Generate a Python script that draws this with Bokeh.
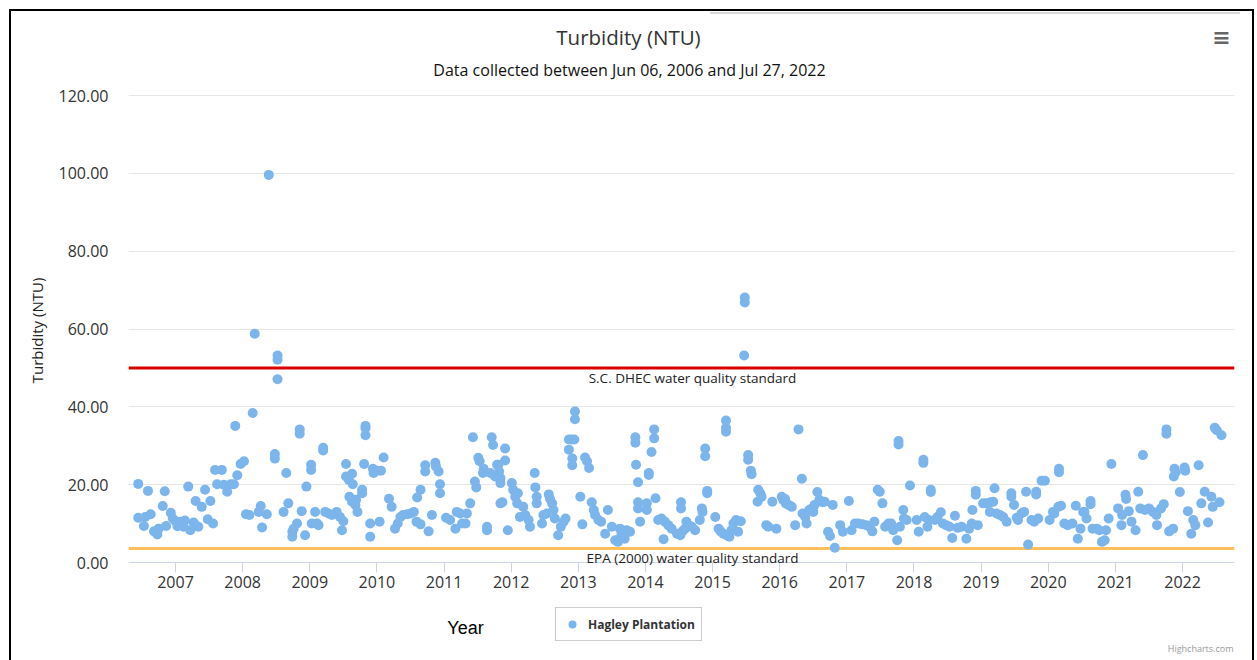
from bokeh.plotting import figure
from bokeh.models import (Range1d, FixedTicker, NumeralTickFormatter, Span, Label,
                          Legend, LegendItem, ColumnDataSource)
from bokeh.embed import file_html
from bokeh.resources import INLINE

# ---------------- data ----------------
sample_year = [
    2006.445, 2006.445, 2006.53, 2006.55, 2006.59, 2006.63, 2006.68, 2006.73, 2006.75, 2006.81,
    2006.84, 2006.86, 2006.93, 2006.96, 2007.00, 2007.03, 2007.07, 2007.14, 2007.12, 2007.19,
    2007.22, 2007.27, 2007.30, 2007.34, 2007.39, 2007.44, 2007.48, 2007.52, 2007.56, 2007.59,
    2007.62, 2007.69, 2007.72, 2007.77, 2007.82, 2007.87, 2007.92, 2007.89, 2007.97, 2008.02,
    2008.05, 2008.10, 2008.15, 2008.18, 2008.24, 2008.27, 2008.29, 2008.36, 2008.39, 2008.48,
    2008.48, 2008.52, 2008.52, 2008.52, 2008.65, 2008.68, 2008.61, 2008.74, 2008.74, 2008.76,
    2008.81, 2008.85, 2008.85, 2008.88, 2008.93, 2008.95, 2009.02, 2009.02, 2009.03,
    2009.08, 2009.11, 2009.13, 2009.20, 2009.20, 2009.23, 2009.28, 2009.33, 2009.40, 2009.45,
    2009.48, 2009.50, 2009.54, 2009.54, 2009.58, 2009.63, 2009.64, 2009.59, 2009.63, 2009.69,
    2009.68, 2009.71, 2009.78, 2009.78, 2009.83, 2009.83, 2009.83, 2009.81, 2009.90, 2009.90,
    2009.94, 2009.95, 2010.00, 2010.04, 2010.06, 2010.10, 2010.18, 2010.22, 2010.27, 2010.31,
    2010.35, 2010.39, 2010.45, 2010.50, 2010.55, 2010.60, 2010.65, 2010.59, 2010.65, 2010.72,
    2010.72, 2010.87, 2010.88, 2010.92, 2010.77, 2010.82, 2010.94, 2010.94, 2011.03, 2011.09,
    2011.17, 2011.19, 2011.24, 2011.27, 2011.32, 2011.34, 2011.39, 2011.43, 2011.46, 2011.48,
    2011.51, 2011.53, 2011.59, 2011.58, 2011.64, 2011.64, 2011.71, 2011.73, 2011.69, 2011.76,
    2011.79, 2011.84,
    2011.81, 2011.82, 2011.84, 2011.84, 2011.91, 2011.91, 2011.87, 2011.95, 2012.01, 2012.03,
    2012.06, 2012.10, 2012.09, 2012.13, 2012.18, 2012.21, 2012.26, 2012.28, 2012.35, 2012.36,
    2012.38, 2012.38, 2012.46, 2012.48, 2012.53, 2012.56, 2012.58, 2012.61, 2012.63, 2012.65,
    2012.70, 2012.74, 2012.78, 2012.81, 2012.86, 2012.90, 2012.94, 2012.86, 2012.91, 2012.91,
    2012.95, 2012.95, 2013.03, 2013.06, 2013.10, 2013.13, 2013.16, 2013.20, 2013.23, 2013.25,
    2013.30, 2013.34, 2013.44, 2013.40, 2013.50, 2013.55, 2013.59, 2013.64, 2013.69, 2013.72,
    2013.77, 2013.62, 2013.85, 2013.85, 2013.86, 2013.89, 2013.89, 2013.89, 2013.92, 2014.02,
    2014.02, 2014.05, 2014.05, 2014.09, 2014.13, 2014.13, 2014.15, 2014.19, 2014.24, 2014.29,
    2014.34, 2014.39, 2014.47, 2014.52, 2014.27, 2014.53, 2014.53,
    2014.55, 2014.59, 2014.64, 2014.69, 2014.74, 2014.61, 2014.81, 2014.84, 2014.85, 2014.89,
    2014.89, 2014.92, 2014.92, 2015.04, 2015.09, 2015.12, 2015.16, 2015.21, 2015.25, 2015.28,
    2015.31, 2015.35, 2015.38, 2015.42, 2015.20, 2015.20, 2015.20, 2015.47, 2015.48, 2015.48,
    2015.53, 2015.53, 2015.57, 2015.58, 2015.67, 2015.68, 2015.71, 2015.73, 2015.80, 2015.83,
    2015.89, 2015.95, 2016.03, 2016.05, 2016.09, 2016.13, 2016.18, 2016.08, 2016.23, 2016.28,
    2016.33, 2016.34, 2016.38, 2016.40, 2016.44, 2016.48, 2016.50, 2016.52, 2016.56, 2016.59,
    2016.64, 2016.67, 2016.72, 2016.75, 2016.79, 2016.82, 2016.90, 2016.94, 2017.03, 2017.07,
    2017.12, 2017.17, 2017.23, 2017.29,
    2017.34, 2017.38, 2017.41, 2017.46, 2017.49, 2017.53, 2017.57, 2017.62, 2017.66, 2017.69,
    2017.75, 2017.77, 2017.77, 2017.79, 2017.84, 2017.85, 2017.89, 2017.94, 2018.04, 2018.07,
    2018.14, 2018.14, 2018.16, 2018.20, 2018.22, 2018.25, 2018.25, 2018.31, 2018.35, 2018.40,
    2018.43, 2018.48, 2018.53, 2018.57, 2018.61, 2018.65, 2018.71, 2018.78, 2018.82, 2018.86,
    2018.87, 2018.92, 2018.92, 2018.95, 2019.03, 2019.08, 2019.14, 2019.18, 2019.13, 2019.20,
    2019.23, 2019.28, 2019.33, 2019.38, 2019.45, 2019.45, 2019.49, 2019.53, 2019.55, 2019.60,
    2019.64, 2019.67, 2019.70, 2019.75, 2019.79, 2019.82, 2019.82, 2019.85, 2019.90, 2019.95,
    2020.02, 2020.07,
    2020.09, 2020.15, 2020.19, 2020.16, 2020.16, 2020.24, 2020.29, 2020.36, 2020.41, 2020.44,
    2020.48, 2020.52, 2020.54, 2020.57, 2020.63, 2020.63, 2020.66, 2020.72, 2020.76, 2020.80,
    2020.84, 2020.86, 2020.90, 2020.94, 2021.04, 2021.09, 2021.10, 2021.15, 2021.16, 2021.20,
    2021.24, 2021.30, 2021.34, 2021.41, 2021.37, 2021.44, 2021.50, 2021.56, 2021.62, 2021.61,
    2021.68, 2021.72, 2021.76, 2021.76, 2021.80, 2021.86, 2021.87, 2021.88, 2021.90, 2021.96,
    2022.03, 2022.04, 2022.08, 2022.13, 2022.16, 2022.19, 2022.24, 2022.28, 2022.33, 2022.38,
    2022.43, 2022.45, 2022.55, 2022.48, 2022.51, 2022.58,
]

turbidity_ntu = [
    20.2, 11.5, 9.4, 11.7, 18.4, 12.4, 8.0, 7.2, 8.7, 14.5,
    18.3, 9.4, 12.8, 11.3, 10.6, 9.3, 10.5, 10.8, 9.2, 19.5,
    8.3, 10.3, 15.8, 9.2, 14.3, 18.7, 11.1, 15.8, 10.0, 23.8,
    20.1, 23.8, 20.0, 18.2, 20.1, 20.1, 22.4, 35.1, 25.3, 26.0,
    12.4, 12.2, 38.4, 58.8, 13.0, 14.5, 9.0, 12.4, 99.6, 27.9,
    26.7, 53.2, 52.1, 47.1, 23.0, 15.2, 13.0, 7.9, 6.6, 8.7,
    10.0, 34.2, 33.1, 13.2, 7.0, 19.5, 25.1, 23.8, 10.0,
    13.0, 10.0, 9.6, 29.5, 28.8, 13.0, 12.6, 12.2, 13.0, 11.7,
    8.3, 10.6, 25.3, 22.1, 21.3, 22.8, 20.1, 16.9, 15.6, 16.1,
    14.8, 13.0, 18.7, 17.8, 35.1, 34.5, 32.7, 25.3, 10.0, 6.6,
    24.1, 23.0, 23.6, 10.5, 23.6, 27.0, 16.4, 14.3, 8.7, 10.0,
    11.7, 12.2, 12.4, 12.6, 13.0, 16.7, 18.7, 10.5, 9.8, 25.0,
    23.4, 25.6, 24.7, 23.4, 8.0, 12.2, 20.1, 17.8, 11.5, 10.9,
    8.7, 13.0, 12.6, 10.0, 10.0, 12.6, 15.2, 32.2, 20.8, 19.3,
    26.9, 26.0, 24.1, 23.0, 9.2, 8.3, 32.2, 30.2, 23.0, 22.1,
    25.1, 15.2,
    25.1, 23.4, 21.7, 20.4, 29.3, 26.2, 15.5, 8.3, 20.4, 18.7,
    16.9, 17.8, 15.2, 11.7, 14.3, 12.2, 10.9, 9.2, 23.0, 19.3,
    16.9, 15.2, 10.0, 12.2, 12.6, 17.5, 16.3, 15.2, 13.5, 11.3,
    7.0, 9.2, 10.5, 11.3, 31.6, 31.6, 31.6, 29.0, 26.7, 25.0,
    38.8, 36.8, 16.9, 9.8, 27.0, 26.0, 24.3, 15.5, 13.5, 12.2,
    10.9, 10.5, 13.5, 7.4, 9.2, 5.7, 5.3, 7.0, 6.1, 8.3,
    7.9, 8.7, 32.2, 30.8, 25.1, 20.6, 15.5, 13.9, 10.5, 15.2,
    13.5, 23.0, 22.5, 28.4, 34.2, 31.9, 16.5, 10.9, 11.3, 10.5,
    9.6, 8.7, 7.4, 7.0, 6.0, 15.5, 13.9,
    8.0, 8.7, 9.6, 9.2, 8.3, 10.5, 10.9, 13.9, 13.0, 29.3,
    27.3, 18.4, 17.8, 11.7, 8.7, 8.0, 7.4, 7.0, 6.6, 8.3,
    10.0, 10.9, 7.9, 10.6, 36.5, 34.6, 33.6, 53.2, 68.1, 66.8,
    27.6, 26.4, 23.6, 22.7, 15.6, 18.7, 17.8, 16.9, 9.6, 9.2,
    15.6, 8.7, 16.9, 16.1, 15.2, 14.8, 14.3, 16.3, 9.6, 34.2,
    21.5, 12.6, 11.7, 10.0, 13.5, 13.9, 13.0, 14.8, 18.1, 16.1,
    15.5, 15.6, 7.9, 6.8, 14.8, 3.8, 9.6, 7.9, 15.8, 8.3,
    10.0, 10.0, 9.8, 9.6,
    9.2, 8.0, 10.5, 18.7, 18.2, 15.2, 9.2, 10.0, 10.0, 8.3,
    5.7, 31.2, 30.3, 9.2, 13.5, 11.3, 10.9, 19.8, 10.9, 7.9,
    26.4, 25.6, 11.7, 9.2, 10.9, 18.7, 18.1, 10.9, 11.7, 12.9,
    10.0, 9.6, 9.2, 6.3, 12.0, 8.9, 9.2, 6.1, 8.7, 10.0,
    13.5, 18.4, 17.4, 9.6, 15.2, 15.2, 15.5, 15.6, 13.0, 19.1,
    12.6, 12.2, 11.7, 10.5, 17.8, 16.9, 14.8, 11.5, 10.9, 12.6,
    13.0, 18.2, 4.6, 10.9, 10.5, 18.2, 17.5, 11.3, 21.0, 21.0,
    10.9, 13.0,
    12.6, 14.3, 14.6, 24.1, 23.2, 10.0, 9.6, 10.0, 14.6, 6.1,
    8.7, 13.0, 13.0, 11.3, 15.8, 15.0, 8.7, 8.7, 8.3, 5.3,
    5.7, 8.3, 11.3, 25.3, 13.9, 9.6, 12.2, 17.4, 16.3, 13.2,
    10.5, 8.3, 18.2, 27.6, 13.9, 13.5, 13.9, 13.0, 9.6, 12.2,
    13.9, 15.0, 34.2, 33.1, 8.0, 8.7, 22.1, 24.1, 23.2, 18.1,
    24.4, 23.6, 13.2, 7.4, 10.9, 9.6, 25.0, 15.2, 18.2, 10.3,
    16.9, 14.3, 15.5, 34.6, 34.0, 32.7,
]

year_ticks = list(range(2007, 2023))
ntu_ticks = [0, 20, 40, 60, 80, 100, 120]
dhec_standard = 50.0
epa_standard = 3.6
series_name = "Hagley Plantation"

# ---------------- layout ----------------
W, H = 1257, 660
FL, FR = 128, 1234            # frame left / right (page px)
PY_TOP, PY_ZERO = 95, 562     # page px of value 120 and value 0
X0, X1 = 2006.30, 2022.774
ppu = (PY_ZERO - PY_TOP) / 120.0
Y_TOP = 120 + PY_TOP / ppu
Y_BOT = -(H - PY_ZERO) / ppu

p = figure(width=W, height=H, output_backend="svg", toolbar_location=None,
           x_range=Range1d(X0, X1), y_range=Range1d(Y_BOT, Y_TOP),
           min_border_left=FL, min_border_right=W - FR,
           min_border_top=0, min_border_bottom=0)
p.title.text = ""
p.title.visible = False
p.outline_line_color = None
p.background_fill_alpha = 0
p.border_fill_alpha = 0
p.styles = {
    "background": (
        "linear-gradient(#000,#000) 9px 9px / 2px 660px no-repeat,"
        "linear-gradient(#000,#000) 9px 9px / 1245px 2px no-repeat,"
        "linear-gradient(#000,#000) 1252px 9px / 2px 660px no-repeat,"
        "linear-gradient(#d8d8d8,#d8d8d8) 710px 12px / 530px 2px no-repeat,"
        "#ffffff"
    )
}

FONT = "Open Sans"

def px_x(px):
    return X0 + (px - FL) / (FR - FL) * (X1 - X0)

def px_y(py):
    return Y_TOP - py / ppu

# grid
p.xgrid.grid_line_color = None
p.ygrid.ticker = FixedTicker(ticks=ntu_ticks)
p.ygrid.grid_line_color = "#e6e6e6"

# y axis
p.yaxis.ticker = FixedTicker(ticks=ntu_ticks)
p.yaxis.formatter = NumeralTickFormatter(format="0.00")
p.yaxis.axis_line_color = None
p.yaxis.major_tick_line_color = None
p.yaxis.minor_tick_line_color = None
p.yaxis.major_label_text_font = FONT
p.yaxis.major_label_text_font_size = "16px"
p.yaxis.major_label_text_color = "#333333"
p.yaxis.major_label_standoff = 14
p.yaxis.axis_label = "Turbidity (NTU)"
p.yaxis.axis_label_text_font = FONT
p.yaxis.axis_label_text_font_style = "normal"
p.yaxis.axis_label_text_font_size = "15px"
p.yaxis.axis_label_text_color = "#222222"
p.yaxis.axis_label_standoff = 9

# x axis, drawn at value 0 inside the tall frame
xa = p.xaxis[0]
xa.fixed_location = 0
xa.bounds = (X0, X1)
xa.ticker = FixedTicker(ticks=year_ticks)
xa.formatter = NumeralTickFormatter(format="0")
xa.axis_line_color = "#ccd6eb"
xa.major_tick_line_color = "#ccd6eb"
xa.major_tick_out = 10
xa.major_tick_in = 0
xa.minor_tick_line_color = None
xa.major_label_text_font = FONT
xa.major_label_text_font_size = "16px"
xa.major_label_text_color = "#333333"
xa.major_label_standoff = 3

# standards
p.add_layout(Span(location=dhec_standard, dimension="width", line_color="#dd0000",
                  line_width=3, level="underlay"))
p.add_layout(Span(location=epa_standard, dimension="width", line_color="#ffc05c",
                  line_width=3, level="underlay"))

src = ColumnDataSource(dict(year=sample_year, ntu=turbidity_ntu))
r = p.scatter(x="year", y="ntu", source=src, size=10, fill_color="#7cb5ec",
              line_color=None)

def add_text(txt, px, py, size, color="#333333", align="center", font=FONT,
             style="normal", baseline="middle"):
    p.add_layout(Label(x=px_x(px), y=px_y(py), text=txt, text_align=align,
                       text_baseline=baseline, text_font=font,
                       text_font_size=size, text_color=color,
                       text_font_style=style))

add_text("S.C. DHEC water quality standard", 692, 377, "13.5px", color="#222222")
add_text("EPA (2000) water quality standard", 692, 557, "13.5px", color="#222222")
add_text("Turbidity (NTU)", 628, 36, "20.5px", color="#333333")
add_text("Data collected between Jun 06, 2006 and Jul 27, 2022", 629, 69, "16px",
         color="#111111")
add_text("Year", 465, 627, "18px", color="#000000", font="Liberation Sans")
add_text("Highcharts.com", 1233, 648, "9px", color="#999999", align="right")
add_text("\u2261", 1221, 37, "22px", color="#666666", font="DejaVu Sans", style="bold")

legend = Legend(items=[LegendItem(label=series_name, renderers=[r])],
                location=(555 - FL, H - 641))
legend.border_line_color = "#999999"
legend.border_line_width = 1
legend.background_fill_color = "white"
legend.label_text_font = FONT
legend.label_text_font_size = "12px"
legend.label_text_font_style = "bold"
legend.label_text_color = "#333333"
legend.glyph_width = 20
legend.glyph_height = 20
legend.padding = 6
legend.margin = 0
legend.label_standoff = 6
legend.label_height = 20
p.add_layout(legend, "center")

open("out.html", "w").write(file_html(p, INLINE))
